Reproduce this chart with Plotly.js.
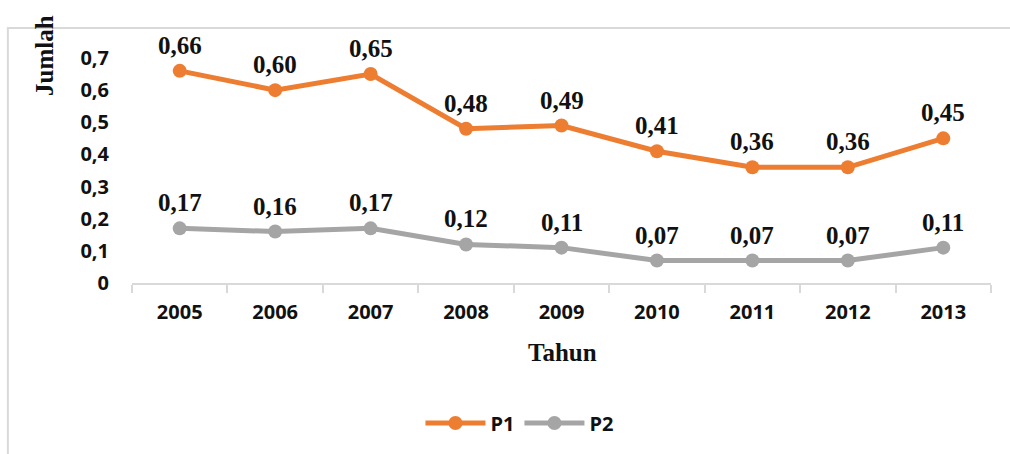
<!DOCTYPE html>
<html>
<head>
<meta charset="utf-8">
<script src="https://cdn.plot.ly/plotly-3.0.1.min.js"></script>
<style>html,body{margin:0;padding:0;background:#fff;}#chart{width:1010px;height:454px;}</style>
</head>
<body>
<div id="chart"></div>
<script>
const years = ['2005','2006','2007','2008','2009','2010','2011','2012','2013'];
const p1 = [0.66,0.60,0.65,0.48,0.49,0.41,0.36,0.36,0.45];
const p2 = [0.17,0.16,0.17,0.12,0.11,0.07,0.07,0.07,0.11];
const yTickVals = [0,0.1,0.2,0.3,0.4,0.5,0.6,0.7];
const yTickText = ['0','0,1','0,2','0,3','0,4','0,5','0,6','0,7'];

const fmt = v => v.toFixed(2).replace('.', ',');
const labelFont = {family:'"Liberation Serif", "Times New Roman", serif', size:25, color:'#111'};
const sansFont = {family:'"Open Sans", sans-serif', size:20, color:'#111', weight:700};

function mk(name, ys, color){
  return {type:'scatter', mode:'lines+markers', name:name, x:years, y:ys,
    line:{color:color, width:5}, marker:{color:color, size:14}, cliponaxis:false, hoverinfo:'none'};
}

const T = 58, B = 171, PH = 454 - T - B;
const annotations = [];
[p1, p2].forEach(s => s.forEach((v,i) => annotations.push({
  x:i, y:v, xref:'x', yref:'y', text:'<b>'+fmt(v)+'</b>', showarrow:false,
  yshift:25.5, font:labelFont, xanchor:'center', yanchor:'middle'
})));
annotations.push({xref:'paper', yref:'paper', x:(562-132)/858, y:(283-352)/PH, text:'<b>Tahun</b>',
  showarrow:false, font:labelFont, xanchor:'center', yanchor:'middle'});
annotations.push({xref:'paper', yref:'paper', x:(45-132)/858, y:(283-55)/PH, text:'<b>Jumlah</b>',
  showarrow:false, font:labelFont, xanchor:'center', yanchor:'middle', textangle:-90});

const layout = {
  width:1010, height:454,
  margin:{l:132, r:19, t:T, b:B},
  paper_bgcolor:'#fff', plot_bgcolor:'#fff',
  showlegend:true,
  legend:{orientation:'h', x:(519-132)/858, xanchor:'center', y:(283-423)/PH, yanchor:'middle',
    font:sansFont, itemwidth:60, traceorder:'normal'},
  xaxis:{type:'category', showgrid:false, zeroline:false, showline:true, linecolor:'#d9d9d9', linewidth:2,
    ticks:'outside', ticklen:8, tickcolor:'#d9d9d9', tickwidth:2, tickson:'boundaries',
    tickfont:sansFont, ticklabelstandoff:10, range:[-0.5, 8.5], fixedrange:true},
  yaxis:{range:[0,0.7], showgrid:false, zeroline:false, showline:false, ticks:'',
    tickvals:yTickVals, ticktext:yTickText, tickfont:sansFont, ticklabelstandoff:22, fixedrange:true},
  annotations:annotations,
  shapes:[{type:'rect', xref:'paper', yref:'paper', x0:(8-132)/858, x1:1.2, y0:-1.2, y1:(283-28)/PH,
    line:{color:'#d9d9d9', width:2}, fillcolor:'rgba(0,0,0,0)', layer:'below'}]
};

Plotly.newPlot('chart', [mk('P1', p1, '#ED7D31'), mk('P2', p2, '#A5A5A5')], layout, {displayModeBar:false, staticPlot:true});
</script>
</body>
</html>
